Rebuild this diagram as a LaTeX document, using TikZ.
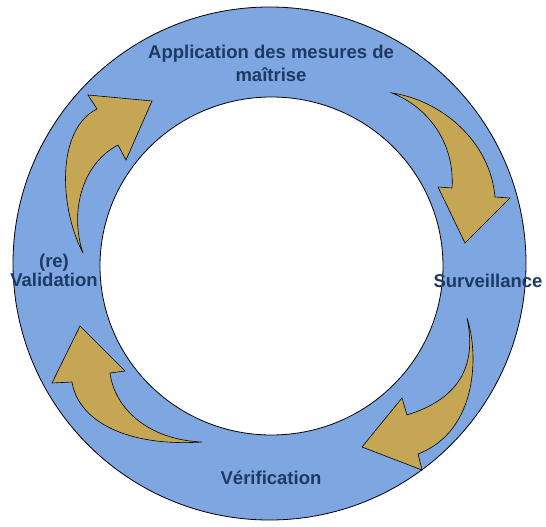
\documentclass[tikz,border=0pt]{standalone}
\usepackage{fontspec}
\setmainfont{Liberation Sans}
\usepackage{tikz}

\definecolor{ringblue}{RGB}{126,166,224}
\definecolor{arrowgold}{RGB}{196,166,84}
\definecolor{labelnavy}{RGB}{28,58,100}

\begin{document}
\begin{tikzpicture}[x=1pt, y=-1pt,
  ring/.style={draw=black, line width=0.8pt},
  cyclearrow/.style={draw=black, line width=0.6pt, fill=arrowgold, line join=miter},
  lbl/.style={text=labelnavy, font=\bfseries\fontsize{18.5}{23}\selectfont, align=center, inner sep=0pt}]
\useasboundingbox (0,0) rectangle (546,527);

\draw[ring, fill=ringblue] (269.5,263.5) circle [radius=256.5];
\draw[ring, fill=white] (271.5,266) ellipse [x radius=171.5, y radius=169];

% arrows of the cycle
\draw[cyclearrow] (392,93) .. controls (440,100) and (490,140) .. (495,197) -- (510,198) -- (465,243) -- (438,187) -- (452,188) .. controls (455,145) and (430,108) .. cycle;
\draw[cyclearrow] (467,318) .. controls (478,350) and (480,430) .. (418,454) -- (422,470) -- (362,447) -- (402,398) -- (407,415) .. controls (455,400) and (478,370) .. cycle;
\draw[cyclearrow] (202,442) .. controls (150,440) and (115,410) .. (110,373) -- (125,371) -- (80,326) -- (52,383) -- (72,382) .. controls (78,420) and (125,447) .. cycle;
\draw[cyclearrow] (83,253) .. controls (60,210) and (55,130) .. (97,109) -- (88,95) -- (152,101) -- (126,160) -- (118,145) .. controls (80,165) and (70,215) .. cycle;

\node[lbl] (application) at (271,63) {Application des mesures de\\ maîtrise};
\node[lbl] (surveillance) at (488,281) {Surveillance};
\node[lbl] (verification) at (271,478) {Vérification};
\node[lbl, font=\bfseries\fontsize{18.5}{19}\selectfont] (validation) at (54,270) {(re)\\ Validation};

\end{tikzpicture}
\end{document}
